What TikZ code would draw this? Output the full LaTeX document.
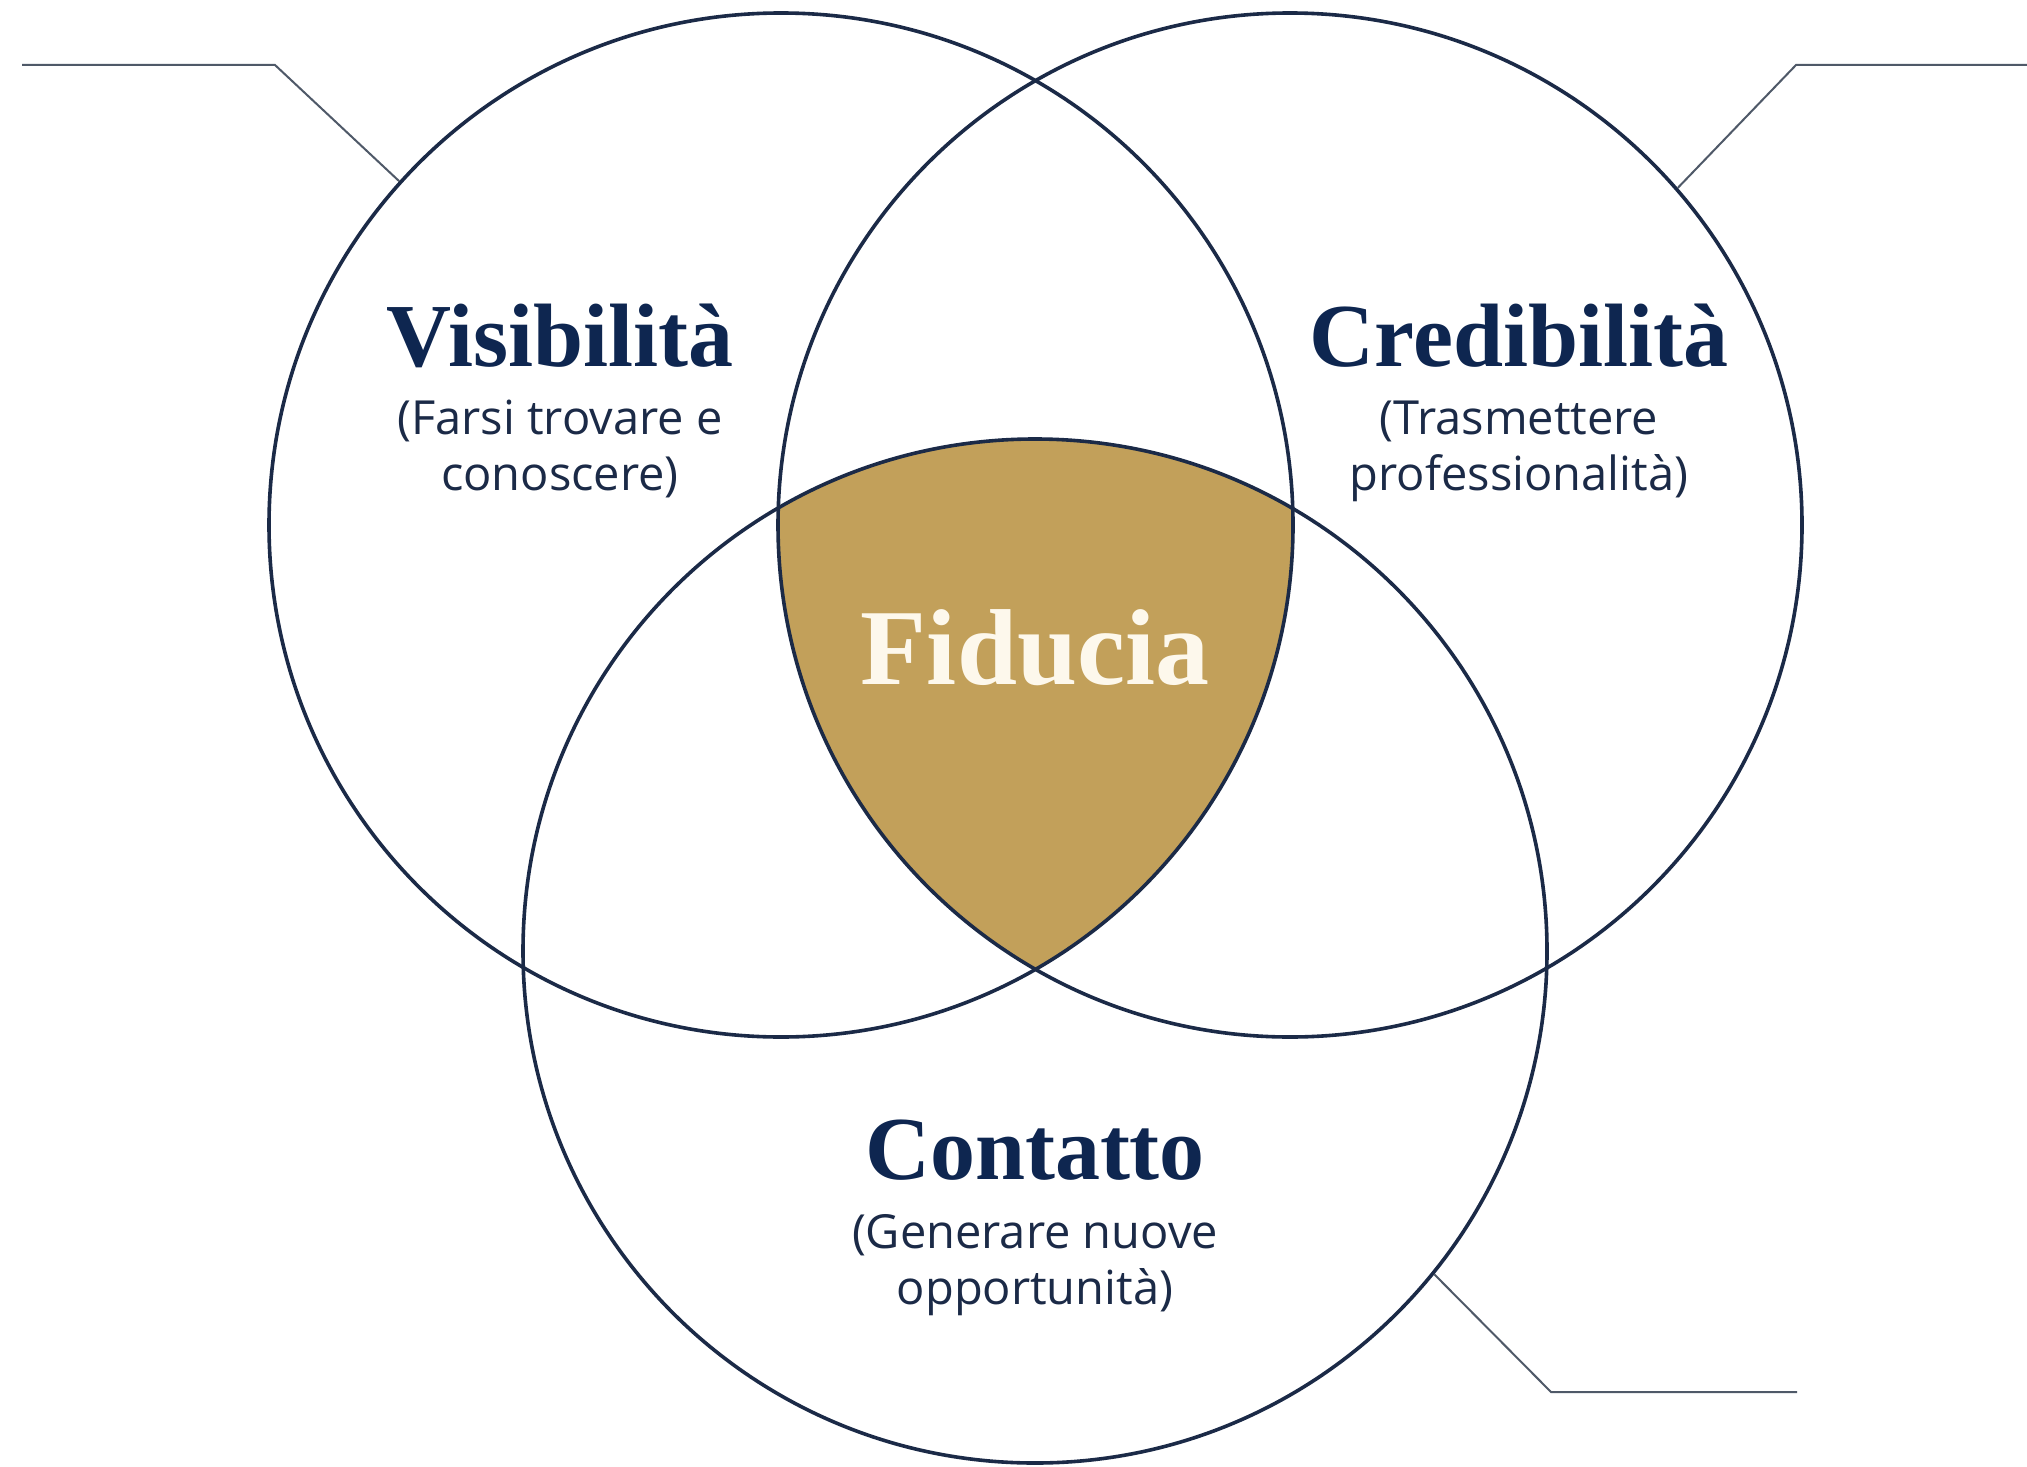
\documentclass[tikz,border=0pt]{standalone}
\usepackage{fontspec}
\setmainfont{Liberation Serif}
\newfontfamily\subfont{Open Sans}
\definecolor{navy}{HTML}{1B2A47}
\definecolor{titlenavy}{HTML}{0E2650}
\definecolor{gold}{HTML}{C2A05A}
\definecolor{cream}{HTML}{FDF8EC}
\definecolor{leader}{HTML}{4F5968}
\tikzset{
  ring/.style={circle, draw=navy, line width=1.8pt, minimum size=512pt, inner sep=0pt},
  ttl/.style={font=\fontsize{45}{50}\selectfont\bfseries, text=titlenavy, inner sep=0pt},
  sub/.style={font=\subfont\fontsize{23.5}{28}\selectfont, text=navy, align=center, inner sep=0pt},
  leaderline/.style={draw=leader, line width=1pt}
}
\begin{document}
\begin{tikzpicture}[x=0.5pt,y=-0.5pt]
\useasboundingbox[fill=white] (0,0) rectangle (2027,1466);
% fill of the central region
\begin{scope}
  \clip (781,525) circle [radius=512];
  \clip (1290,525) circle [radius=512];
  \fill[gold] (1035,951) circle [radius=512];
\end{scope}
\node[ring] (L) at (781,525) {};
\node[ring] (R) at (1290,525) {};
\node[ring] (B) at (1035,951) {};
% leader lines
\coordinate (l1) at (22,65);
\coordinate (l2) at (275,65);
\draw[leaderline] (l1) -- (l2) -- (L.138.5);
\coordinate (r1) at (2027,65);
\coordinate (r2) at (1796,65);
\draw[leaderline] (r1) -- (r2) -- (R.41.5);
\coordinate (b1) at (1797,1392);
\coordinate (b2) at (1551,1392);
\draw[leaderline] (b1) -- (b2) -- (B.-39.2);
% texts
\node[ttl] (vt) at (560,336) {Visibilità};
\node[sub, anchor=base] (vs1) at (560,434) {(Farsi trovare e};
\node[sub, anchor=base] (vs2) at (560,490) {conoscere)};
\node[ttl] (ct) at (1519,336) {Credibilità};
\node[sub, anchor=base] (cs1) at (1519,434) {(Trasmettere};
\node[sub, anchor=base] (cs2) at (1519,490) {professionalità)};
\node[ttl, font=\fontsize{54}{60}\selectfont\bfseries, text=cream] (ft) at (1035,648) {Fiducia};
\node[ttl] (kt) at (1035,1150) {Contatto};
\node[sub, anchor=base] (ks1) at (1035,1248) {(Generare nuove};
\node[sub, anchor=base] (ks2) at (1035,1304) {opportunità)};
\end{tikzpicture}
\end{document}
